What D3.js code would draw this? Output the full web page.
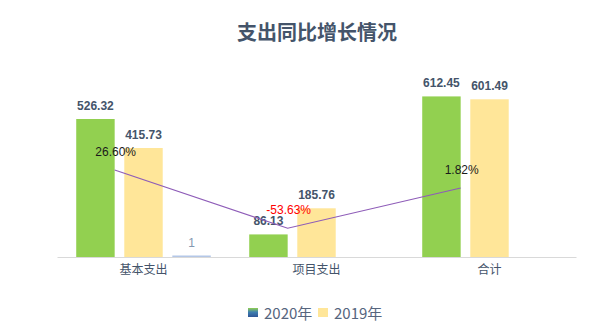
<!DOCTYPE html>
<html>
<head>
<meta charset="utf-8">
<script src="https://cdn.jsdelivr.net/npm/d3@7/dist/d3.min.js"></script>
<style>
  html, body { margin: 0; padding: 0; background: #fff; }
  svg { display: block; font-family: "Noto Sans CJK SC", "Noto Sans", sans-serif; }
</style>
</head>
<body>
<svg id="chart" width="600" height="328"></svg>
<script>
// Expenditure categories and yearly amounts
const categories = ["基本支出", "项目支出", "合计"];
const values2020 = [526.32, 86.13, 612.45];
const values2019 = [415.73, 185.76, 601.49];
const valuesExtra = [1, null, null];
// Year-on-year growth (%)
const growth = [26.60, -53.63, 1.82];
const seriesNames = ["2020年", "2019年", "extra"];
const legendNames = ["2020年", "2019年"];

const svg = d3.select("#chart");
const left = 57, right = 576, base = 257;

const defs = svg.append("defs");
const grad = defs.append("linearGradient").attr("id", "g2020")
  .attr("x1", 0).attr("y1", 0).attr("x2", 0).attr("y2", 1);
grad.append("stop").attr("offset", "0%").attr("stop-color", "#92d050");
grad.append("stop").attr("offset", "45%").attr("stop-color", "#3f7fb0");
grad.append("stop").attr("offset", "100%").attr("stop-color", "#2f5597");

const colors = { "2020年": "#92d050", "2019年": "#ffe699", "extra": "#b4c7e7" };

// Scales
const x0 = d3.scaleBand().domain(categories).range([left, right]).paddingInner(0).paddingOuter(0);
const x1 = d3.scaleBand().domain(seriesNames).range([0, x0.bandwidth()]).paddingInner(0.2).paddingOuter(0.4);
const y = d3.scaleLinear().domain([0, 700]).range([base, base - 700 * 0.2622]);
const y2 = d3.scaleLinear().domain([-100, 100]).range([261.9, 116.7]);

// Title
svg.append("text").attr("x", 317).attr("y", 40).attr("text-anchor", "middle")
  .attr("font-size", 20).attr("font-weight", "bold").attr("fill", "#44546a")
  .text("支出同比增长情况");

// Category axis
const xAxis = d3.axisBottom(x0).tickSize(0).tickPadding(8);
const gx = svg.append("g").attr("transform", `translate(0,${base})`).call(xAxis);
gx.select(".domain").attr("stroke", "#d9d9d9").attr("stroke-width", 1);
gx.selectAll(".tick text").attr("font-size", 12).attr("fill", "#44546a")
  .attr("font-family", "\"Noto Sans CJK SC\", sans-serif");

// Bars
const rows = categories.map((c, i) => ({
  cat: c,
  items: [
    { s: "2020年", v: values2020[i] },
    { s: "2019年", v: values2019[i] },
    { s: "extra", v: valuesExtra[i] }
  ].filter(d => d.v !== null)
}));

const groups = svg.selectAll(".grp").data(rows).enter().append("g")
  .attr("transform", d => `translate(${x0(d.cat)},0)`);

groups.selectAll("rect").data(d => d.items).enter().append("rect")
  .attr("x", d => x1(d.s))
  .attr("width", x1.bandwidth())
  .attr("y", d => Math.min(y(d.v), base - 1.5))
  .attr("height", d => Math.max(base - y(d.v), 1.5))
  .attr("fill", d => colors[d.s]);

groups.selectAll("text.val").data(d => d.items).enter().append("text")
  .attr("class", "val")
  .attr("x", d => x1(d.s) + x1.bandwidth() / 2)
  .attr("y", d => Math.min(y(d.v), base - 1.5) - 9)
  .attr("text-anchor", "middle")
  .attr("font-size", 12)
  .attr("font-weight", d => d.s === "extra" ? "normal" : "bold")
  .attr("fill", d => d.s === "extra" ? "#8497b0" : "#44546a")
  .attr("font-family", "\"Liberation Sans\", Arial, sans-serif")
  .text(d => d.v);

// Growth line, anchored at the right edge of each 2020 bar
const lx = c => x0(c) + x1("2020年") + x1.bandwidth();
const pts = categories.map((c, i) => ({ c, v: growth[i] }));
svg.append("path").datum(pts)
  .attr("fill", "none").attr("stroke", "#8e5cb8").attr("stroke-width", 1.2)
  .attr("d", d3.line().x(d => lx(d.c)).y(d => y2(d.v)));

svg.selectAll("text.pct").data(pts).enter().append("text")
  .attr("class", "pct")
  .attr("x", d => lx(d.c) + 1)
  .attr("y", d => y2(d.v) - 14)
  .attr("text-anchor", "middle")
  .attr("font-size", 12)
  .attr("font-family", "\"Liberation Sans\", Arial, sans-serif")
  .attr("fill", d => d.v < 0 ? "#ff0000" : "#1a1a1a")
  .text(d => d.v.toFixed(2) + "%");

// Legend
const legend = svg.append("g").attr("transform", "translate(248,308)");
const legX = [0, 70];
legendNames.forEach((n, i) => {
  const g = legend.append("g").attr("transform", `translate(${legX[i]},0)`);
  g.append("rect").attr("width", 10).attr("height", 9)
    .attr("fill", i === 0 ? "url(#g2020)" : colors[n]);
  g.append("text").attr("x", 16).attr("y", 10.5)
    .attr("font-size", 15).attr("fill", "#56657e")
    .text(n);
});
</script>
</body>
</html>
